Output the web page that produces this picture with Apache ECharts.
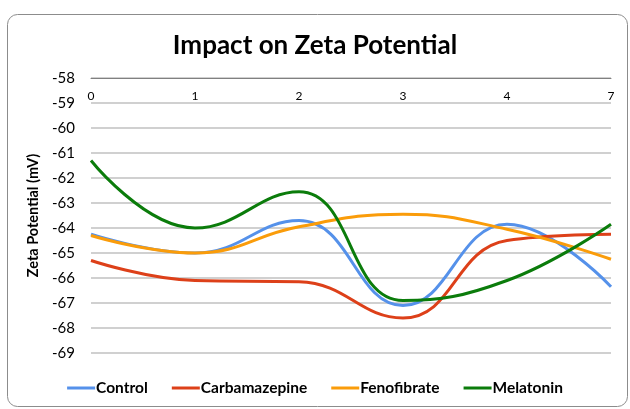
<!DOCTYPE html>
<html>
<head>
<meta charset="utf-8">
<script src="https://cdn.jsdelivr.net/npm/echarts@6/dist/echarts.min.js"></script>
<style>
  html, body { margin: 0; padding: 0; background: #fff; }
  #chart { width: 630px; height: 409px; }
</style>
</head>
<body>
<div id="chart"></div>
<script>
var days = ['0', '1', '2', '3', '4', '7'];
var control = [-64.25, -65.0, -63.7, -67.1, -63.85, -66.35];
var carbamazepine = [-65.3, -66.1, -66.15, -67.6, -64.5, -64.25];
var fenofibrate = [-64.3, -65.0, -63.95, -63.45, -64.05, -65.25];
var melatonin = [-61.3, -64.0, -62.55, -66.9, -66.1, -63.85];

var fontName = 'Lato';

function line(name, data, color) {
    return {
        name: name,
        type: 'line',
        data: data,
        smooth: 0.45,
        symbol: 'none',
        lineStyle: { width: 3, color: color },
        itemStyle: { color: color }
    };
}

var myChart = echarts.init(document.getElementById('chart'));

var option = {
    animation: false,
    graphic: [{
        type: 'rect',
        shape: { x: 7.5, y: 14.5, width: 620, height: 392, r: 10 },
        style: { fill: 'none', stroke: '#8c8c8c', lineWidth: 1 },
        z: -1
    }],
    title: {
        text: 'Impact on Zeta Potential',
        left: 'center',
        top: 28,
        textStyle: { fontFamily: fontName, fontWeight: 'bold', fontSize: 26, color: '#000' }
    },
    legend: {
        bottom: 8,
        left: 'center',
        itemWidth: 28,
        itemHeight: 3,
        itemGap: 24,
        icon: 'rect',
        textStyle: { fontFamily: fontName, fontWeight: 'bold', fontSize: 15.5, color: '#000', padding: [0, 0, 0, -4] },
        data: ['Control', 'Carbamazepine', 'Fenofibrate', 'Melatonin']
    },
    grid: { left: 91, right: 19, top: 78, bottom: 56, containLabel: false },
    xAxis: {
        type: 'category',
        data: days,
        position: 'top',
        boundaryGap: false,
        axisLine: { lineStyle: { color: '#808080', width: 1 } },
        axisTick: { show: false },
        axisLabel: {
            inside: true,
            margin: 12,
            fontFamily: fontName,
            fontSize: 12,
            color: '#000'
        },
        splitLine: { show: false }
    },
    yAxis: {
        type: 'value',
        min: -69,
        max: -58,
        interval: 1,
        name: 'Zeta Potential (mV)',
        nameLocation: 'middle',
        nameGap: 35,
        nameTextStyle: { fontFamily: fontName, fontWeight: 'bold', fontSize: 14.5, color: '#000' },
        axisLine: { show: false },
        axisTick: { show: false },
        axisLabel: { fontFamily: fontName, fontSize: 15, color: '#000', margin: 16 },
        splitLine: { lineStyle: { color: '#c0c0c0', width: 1.5 } }
    },
    series: [
        line('Control', control, '#5591EA'),
        line('Carbamazepine', carbamazepine, '#DD4019'),
        line('Fenofibrate', fenofibrate, '#FA9C0A'),
        line('Melatonin', melatonin, '#0B7C0B')
    ]
};

myChart.setOption(option);
</script>
</body>
</html>
